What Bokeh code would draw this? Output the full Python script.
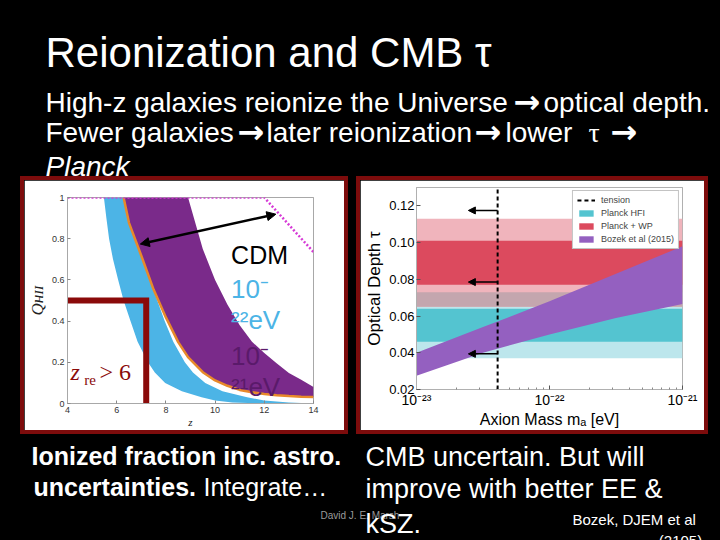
import numpy as np
from bokeh.plotting import figure
from bokeh.layouts import column, row
from bokeh.models import (Label, Arrow, NormalHead, Legend, LegendItem, FixedTicker,
                          CustomJSTickFormatter, PrintfTickFormatter, Spacer, Range1d)
from bokeh.embed import file_html
from bokeh.resources import INLINE

FONT = "Liberation Sans"
SERIF = "Liberation Serif"
ARROW_FONT = "DejaVu Sans"
BOX_RED = "#7d0c0c"
MID = 0.355  # distance (in em) from the text's middle up from its baseline

# ---------------- data: left panel (ionized fraction Q_HII vs z) ----------------
blue_q = [1.0, 0.9, 0.8, 0.7, 0.6, 0.5, 0.4, 0.3, 0.2, 0.15, 0.1, 0.06, 0.03, 0.015, 0.005, 0.0]
blue_z_left = [5.48, 5.58, 5.69, 5.85, 6.06, 6.28, 6.56, 6.85, 7.27, 7.55, 7.97, 8.65, 9.45, 10.0, 10.7, 11.8]
blue_z_right = [6.28, 6.45, 6.75, 7.05, 7.35, 7.65, 7.95, 8.3, 8.77, 9.1, 9.6, 10.3, 11.3, 12.0, 13.0, 14.0]

cdm_z = [6.28, 6.5, 7.0, 7.5, 8.0, 8.5, 8.9, 9.5, 10.0, 10.5, 11.0, 11.5, 12.0, 12.5, 13.0, 13.5, 14.0]
cdm_q = [1.0, 0.877, 0.717, 0.553, 0.418, 0.298, 0.225, 0.152, 0.112, 0.086, 0.066, 0.055, 0.046, 0.040, 0.036, 0.033, 0.031]
purple_q_top = [1.0, 1.0, 1.0, 1.0, 1.0, 1.0, 1.0, 0.75, 0.60, 0.48, 0.38, 0.30, 0.245, 0.195, 0.148, 0.115, 0.08]

tension_z = [4.0, 12.0, 14.0]
tension_q = [1.0, 1.0, 0.735]
zre_z = [4.0, 7.2, 7.2]
zre_q = [0.5, 0.5, 0.0]
gap_arrow_z = [6.96, 12.47]
gap_arrow_q = [0.774, 0.919]
left_xticks = [4, 6, 8, 10, 12, 14]
left_yticks = [0, 0.2, 0.4, 0.6, 0.8, 1]

# ---------------- data: right panel (optical depth vs axion mass) ----------------
mass_span = [1e-23, 1e-21]
hfi_1sig = [0.046, 0.064]
hfi_2sig = [0.037, 0.073]
wp_1sig = [0.077, 0.101]
wp_2sig = [0.065, 0.113]
bozek_log_m = [-23.0, -22.5, -22.0, -21.5, -21.0]
bozek_lo = [0.0275, 0.040, 0.050, 0.059, 0.0665]
bozek_hi = [0.040, 0.054, 0.068, 0.083, 0.098]
tension_log_m = -22.39
arrow_tip_log_m = -22.61
arrow_tau = [0.1175, 0.0785, 0.0394]
right_yticks = [0.02, 0.04, 0.06, 0.08, 0.10, 0.12]
right_xticks = [1e-23, 1e-22, 1e-21]


def slide_fig(h, y0):
    p = figure(width=720, height=h, x_range=Range1d(0, 720), y_range=Range1d(y0 + h, y0),
               x_axis_type=None, y_axis_type=None, toolbar_location=None, output_backend="svg",
               title=None, min_border=0, background_fill_color="black", border_fill_color="black",
               outline_line_color=None)
    return p


def txt(p, x, y, s, size, color="white", style="normal", font=FONT, down=1.0, **kw):
    """y is the baseline; 'down' = data units per screen pixel downward.
    The label is anchored at its middle, which lies MID*size pixels above the baseline."""
    ymid = y - down * MID * size
    p.add_layout(Label(x=x, y=ymid, text=s, text_font_size=f"{size}px", text_color=color,
                       text_font_style=style, text_font=font, text_baseline="middle", **kw))


def arrow_txt(p, x, y):
    txt(p, x, y, "→", 32, font=ARROW_FONT, style="bold")


def red_bar(w, h):
    return Spacer(width=w, height=h, styles={"background-color": BOX_RED})


def framed(fig, w, h, b=4):
    return column(red_bar(w + 2 * b, b),
                  row(red_bar(b, h), fig, red_bar(b, h), spacing=0),
                  red_bar(w + 2 * b, b), spacing=0)


# ---------------- top text ----------------
top = slide_fig(176, 0)
txt(top, 45, 67, "Reionization and CMB τ", 42)
txt(top, 45, 112, "High-z galaxies reionize the Universe", 28)
arrow_txt(top, 513, 113)
txt(top, 543, 112, "optical depth.", 28)
txt(top, 45, 142, "Fewer galaxies", 28)
arrow_txt(top, 237, 143)
txt(top, 266, 142, "later reionization", 28)
arrow_txt(top, 474, 143)
txt(top, 505, 142, "lower", 28)
txt(top, 588, 142, "τ", 28, font=SERIF)
arrow_txt(top, 610, 143)
txt(top, 45, 176, "Planck", 28, style="italic")

# ---------------- left panel ----------------
LW, LH = 320, 250
QDOWN = -1.0 / 206  # Q units per screen pixel downward
left = figure(width=LW, height=LH, x_range=Range1d(4, 14), y_range=Range1d(0, 1),
              toolbar_location=None, output_backend="svg", title=None,
              min_border_left=41, min_border_right=31, min_border_top=17, min_border_bottom=27,
              background_fill_color="white", border_fill_color="white", outline_line_color="#a8a8a8")
left.grid.visible = False
left.harea(y=blue_q, x1=blue_z_left, x2=blue_z_right, fill_color="#4cb4e6")
left.varea(x=cdm_z, y1=cdm_q, y2=purple_q_top, fill_color="#7a2a8a")
left.line(cdm_z, cdm_q, line_color="#e8892a", line_width=2.5)
left.line(tension_z, tension_q, line_color="#d63ad6", line_width=2.5, line_dash="2 2")
left.line(zre_z, zre_q, line_color="#8a0a0a", line_width=6, line_join="miter")
left.add_layout(Arrow(start=NormalHead(size=9, fill_color="black", line_color="black"),
                      end=NormalHead(size=9, fill_color="black", line_color="black"),
                      x_start=gap_arrow_z[0], y_start=gap_arrow_q[0],
                      x_end=gap_arrow_z[1], y_end=gap_arrow_q[1], line_width=2.5))
left.xaxis.ticker = FixedTicker(ticks=left_xticks)
left.yaxis.ticker = FixedTicker(ticks=left_yticks)
left.yaxis.formatter = CustomJSTickFormatter(code="return String(tick)")
for ax in left.axis:
    ax.axis_line_color = "#a8a8a8"
    ax.major_tick_in = 3
    ax.major_tick_out = 0
    ax.major_tick_line_color = "#888888"
    ax.minor_tick_line_color = None
    ax.major_label_text_font_size = "9px"
    ax.major_label_text_color = "#333333"
    ax.major_label_text_font = FONT
    ax.major_label_standoff = 3
    ax.axis_label_text_color = "#222222"
    ax.axis_label_text_font = SERIF
    ax.axis_label_text_font_style = "italic"
left.yaxis.axis_label = "Qʜɪɪ"
left.yaxis.axis_label_text_font_size = "17px"
left.yaxis.axis_label_standoff = 2
left.xaxis.axis_label = "z"
left.xaxis.axis_label_text_font_size = "11px"
left.xaxis.axis_label_standoff = 0

# in-panel annotations (baselines in data units)
txt(left, 4.12, 0.112, "z", 24, color="#8a0a0a", style="italic", font=SERIF, down=QDOWN)
txt(left, 4.68, 0.087, "re", 15, color="#8a0a0a", font=SERIF, down=QDOWN)
txt(left, 5.3, 0.112, "> 6", 24, color="#8a0a0a", font=SERIF, down=QDOWN)
txt(left, 10.65, 0.68, "CDM", 25, color="black", down=QDOWN)
txt(left, 10.65, 0.51, "10⁻", 26, color="#4cb4e6", down=QDOWN)
txt(left, 10.65, 0.36, "²²eV", 26, color="#4cb4e6", down=QDOWN)
txt(left, 10.65, 0.184, "10⁻", 26, color="#5a1a6a", down=QDOWN)
txt(left, 10.65, 0.034, "²¹eV", 26, color="#5a1a6a", down=QDOWN)

# ---------------- right panel ----------------
RW, RH = 344, 250
right = figure(width=RW, height=RH, x_axis_type="log", x_range=Range1d(1e-23, 1e-21),
               y_range=Range1d(0.02, 0.13), toolbar_location=None, output_backend="svg", title=None,
               min_border_left=56, min_border_right=22, min_border_top=7, min_border_bottom=37,
               background_fill_color="white", border_fill_color="white", outline_line_color="#b0b0b0")
right.grid.visible = False
m_lo, m_hi = mass_span
r_hfi2 = right.quad(left=m_lo, right=m_hi, bottom=hfi_2sig[0], top=hfi_2sig[1],
                    fill_color="#bce6ec", line_color=None)
r_hfi1 = right.quad(left=m_lo, right=m_hi, bottom=hfi_1sig[0], top=hfi_1sig[1],
                    fill_color="#54c4d0", line_color=None)
r_wp2 = right.quad(left=m_lo, right=m_hi, bottom=wp_2sig[0], top=wp_2sig[1],
                   fill_color="#f0b4bc", line_color=None)
ov_lo = max(hfi_2sig[0], wp_2sig[0])
ov_hi = min(hfi_2sig[1], wp_2sig[1])
right.quad(left=m_lo, right=m_hi, bottom=ov_lo, top=ov_hi, fill_color="#c4a6ae", line_color=None)
r_wp1 = right.quad(left=m_lo, right=m_hi, bottom=wp_1sig[0], top=wp_1sig[1],
                   fill_color="#dc4a5e", line_color=None)
bozek_m = [10 ** v for v in bozek_log_m]
r_bozek = right.varea(x=bozek_m, y1=bozek_lo, y2=bozek_hi, fill_color="#9460c0")
t_mass = 10 ** tension_log_m
r_tension = right.line([t_mass, t_mass], [0.02, 0.13], line_color="black", line_width=2, line_dash="4 3")
tip = 10 ** arrow_tip_log_m
for t in arrow_tau:
    right.add_layout(Arrow(end=NormalHead(size=7, fill_color="black", line_color="black"),
                           x_start=t_mass, y_start=t, x_end=tip, y_end=t, line_width=1.5))

right.xaxis.ticker = FixedTicker(ticks=right_xticks,
                                 minor_ticks=[k * 10.0 ** e for e in (-23, -22) for k in range(2, 10)])
right.xaxis.formatter = CustomJSTickFormatter(code="""
const sup = {"-": "\u207b", "0": "\u2070", "1": "\u00b9", "2": "\u00b2", "3": "\u00b3",
             "4": "\u2074", "5": "\u2075", "6": "\u2076", "7": "\u2077", "8": "\u2078", "9": "\u2079"};
const e = Math.round(Math.log10(tick));
return "10" + String(e).split("").map(c => sup[c]).join("");
""")
right.yaxis.ticker = FixedTicker(ticks=right_yticks)
right.yaxis.formatter = PrintfTickFormatter(format="%.2f")
for ax in right.axis:
    ax.axis_line_color = "#b0b0b0"
    ax.major_tick_in = 4
    ax.major_tick_out = 0
    ax.minor_tick_in = 2
    ax.minor_tick_out = 0
    ax.major_tick_line_color = "#555555"
    ax.minor_tick_line_color = "#888888"
    ax.major_label_text_font_size = "13px"
    ax.major_label_text_color = "black"
    ax.major_label_text_font = FONT
    ax.major_label_standoff = 2
    ax.axis_label_text_color = "black"
    ax.axis_label_text_font = FONT
    ax.axis_label_text_font_style = "normal"
right.xaxis.major_label_text_font_size = "14px"
right.yaxis.axis_label = "Optical Depth τ"
right.yaxis.axis_label_text_font_size = "17px"
right.yaxis.axis_label_standoff = 2
right.xaxis.axis_label = "Axion Mass mₐ [eV]"
right.xaxis.axis_label_text_font_size = "16px"
right.xaxis.axis_label_standoff = 0

legend = Legend(items=[LegendItem(label="tension", renderers=[r_tension]),
                       LegendItem(label="Planck HFI", renderers=[r_hfi1]),
                       LegendItem(label="Planck + WP", renderers=[r_wp1]),
                       LegendItem(label="Bozek et al (2015)", renderers=[r_bozek])],
                location="top_right", label_text_font_size="9px", label_text_font=FONT,
                glyph_width=18, glyph_height=8, label_height=10, spacing=3, padding=4, margin=3,
                label_standoff=6, border_line_color="#888888", background_fill_alpha=1.0)
right.add_layout(legend)

# ---------------- bottom text ----------------
bottom = slide_fig(106, 434)
txt(bottom, 31, 464, "Ionized fraction inc. astro.", 25, style="bold")
txt(bottom, 33, 495, "uncertainties.", 25, style="bold")
txt(bottom, 203, 495, "Integrate…", 25)
txt(bottom, 365, 466, "CMB uncertain. But will", 27)
txt(bottom, 365, 498, "improve with better EE &", 27)
txt(bottom, 320, 519, "David J. E. Marsh", 10, color="#9a9a9a")
txt(bottom, 365, 533, "kSZ.", 27)
txt(bottom, 572, 524, "Bozek, DJEM et al", 15)
txt(bottom, 680, 545, "(2105)", 15, text_align="center")

mid = row(Spacer(width=20, height=258), framed(left, LW, LH), Spacer(width=8, height=258),
          framed(right, RW, RH), Spacer(width=12, height=258), spacing=0)
root = column(top, mid, bottom, spacing=0, styles={"background-color": "black"})

open("out.html", "w").write(file_html(root, INLINE))
